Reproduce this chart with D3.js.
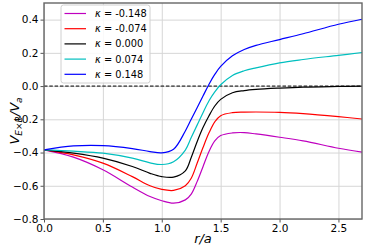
<!DOCTYPE html>
<html>
<head>
<meta charset="utf-8">
<script src="https://cdn.jsdelivr.net/npm/d3@7"></script>
<style>
  body { margin: 0; background: #fff; }
  svg { display: block; font-family: "DejaVu Sans", sans-serif; }
</style>
</head>
<body>
<svg id="chart" width="374" height="249"></svg>
<script>
// r/a positions shared by all curves
var rVals = [0, 0.25, 0.5, 0.75, 0.9, 1.0, 1.1, 1.2, 1.25, 1.3, 1.35, 1.4, 1.45, 1.5, 1.6, 1.7, 1.8, 2.0, 2.2, 2.5, 2.7];

var kappas = ["-0.148", "-0.074", "0.000", "0.074", "0.148"];
var couleurs = ["#bf00bf", "#ff0000", "#000000", "#00bfbf", "#0000ff"];

var vKm148 = [-0.384, -0.428, -0.504, -0.608, -0.665, -0.69, -0.705, -0.685, -0.65, -0.575, -0.485, -0.395, -0.33, -0.298, -0.282, -0.28, -0.288, -0.308, -0.33, -0.374, -0.398];
var vKm074 = [-0.384, -0.414, -0.464, -0.545, -0.60, -0.622, -0.628, -0.60, -0.555, -0.465, -0.37, -0.283, -0.215, -0.178, -0.16, -0.157, -0.156, -0.158, -0.166, -0.184, -0.198];
var vK000 = [-0.384, -0.404, -0.434, -0.484, -0.525, -0.545, -0.548, -0.51, -0.43, -0.335, -0.25, -0.18, -0.12, -0.08, -0.04, -0.027, -0.02, -0.012, -0.006, -0.002, 0.0];
var vKp074 = [-0.384, -0.392, -0.404, -0.434, -0.462, -0.472, -0.455, -0.385, -0.31, -0.235, -0.16, -0.09, -0.035, 0.008, 0.064, 0.092, 0.11, 0.14, 0.16, 0.185, 0.202];
var vKp148 = [-0.384, -0.36, -0.358, -0.376, -0.394, -0.402, -0.38, -0.27, -0.20, -0.13, -0.06, 0.01, 0.07, 0.118, 0.182, 0.22, 0.245, 0.28, 0.315, 0.372, 0.402];

var series = [vKm148, vKm074, vK000, vKp074, vKp148];

var xTicks = [0, 0.5, 1.0, 1.5, 2.0, 2.5];
var yTicks = [-0.8, -0.6, -0.4, -0.2, 0.0, 0.2, 0.4];

(function() {
    var svg = d3.select("#chart"),
        mLeft = 44, mRight = 362, mTop = 3, mBottom = 219;

    var x = d3.scaleLinear().domain([0, 2.7]).range([mLeft, mRight]);
    var y = d3.scaleLinear().domain([-0.8, 0.5]).range([mBottom, mTop]);

    // grille
    svg.append("g")
        .attr("transform", "translate(0," + mBottom + ")")
        .call(d3.axisBottom(x).tickValues(xTicks).tickSize(-(mBottom - mTop)).tickFormat(""))
        .call(g => g.select(".domain").remove())
        .selectAll("line").attr("stroke", "#d6d6d6").attr("stroke-width", 1);
    svg.append("g")
        .attr("transform", "translate(" + mLeft + ",0)")
        .call(d3.axisLeft(y).tickValues(yTicks).tickSize(-(mRight - mLeft)).tickFormat(""))
        .call(g => g.select(".domain").remove())
        .selectAll("line").attr("stroke", "#d6d6d6").attr("stroke-width", 1);

    // ligne zéro
    svg.append("line")
        .attr("x1", mLeft).attr("x2", mRight)
        .attr("y1", y(0)).attr("y2", y(0))
        .attr("stroke", "#000").attr("stroke-width", 1)
        .attr("stroke-dasharray", "3.5,1.8");

    // courbes
    var line = d3.line()
        .x(function(d, i) { return x(rVals[i]); })
        .y(function(d) { return y(d); })
        .curve(d3.curveCatmullRom.alpha(0.5));

    series.forEach(function(s, i) {
        svg.append("path")
            .attr("d", line(s))
            .attr("fill", "none")
            .attr("stroke", couleurs[i])
            .attr("stroke-width", 1.2);
    });

    // axes
    var xAxis = svg.append("g")
        .attr("transform", "translate(0," + mBottom + ")")
        .call(d3.axisBottom(x).tickValues(xTicks).tickSize(3.5).tickPadding(2).tickFormat(d3.format(".1f")));
    var yAxis = svg.append("g")
        .attr("transform", "translate(" + mLeft + ",0)")
        .call(d3.axisLeft(y).tickValues(yTicks).tickSize(3.5).tickPadding(2)
            .tickFormat(function(d) { return d3.format(".1f")(d).replace("-", "\u2212"); }));
    [xAxis, yAxis].forEach(function(g) {
        g.select(".domain").remove();
        g.selectAll("line").attr("stroke", "#555").attr("stroke-width", 1);
        g.selectAll("text").attr("fill", "#000").style("font-size", "10.5px").style("font-family", "DejaVu Sans");
    });

    // cadre
    svg.append("rect")
        .attr("x", mLeft).attr("y", mTop)
        .attr("width", mRight - mLeft).attr("height", mBottom - mTop)
        .attr("fill", "none").attr("stroke", "#666").attr("stroke-width", 1.4);

    // légende
    var lg = svg.append("g").attr("transform", "translate(61,5)");
    lg.append("rect")
        .attr("width", 89).attr("height", 78).attr("rx", 2.5)
        .attr("fill", "#fff").attr("fill-opacity", 0.85)
        .attr("stroke", "#d0d0d0").attr("stroke-width", 1);
    kappas.forEach(function(k, i) {
        var yy = 8.5 + i * 15.2;
        lg.append("line")
            .attr("x1", 3.5).attr("x2", 25)
            .attr("y1", yy).attr("y2", yy)
            .attr("stroke", couleurs[i]).attr("stroke-width", 1.2);
        var t = lg.append("text")
            .attr("x", 34).attr("y", yy + 3.5)
            .style("font-size", "9.8px");
        t.append("tspan").style("font-style", "italic").text("\u03ba");
        t.append("tspan").text(" = " + k);
    });

    // titres des axes
    var yl = svg.append("text")
        .attr("transform", "translate(19,121) rotate(-90)")
        .attr("text-anchor", "middle")
        .style("font-size", "13px").style("font-style", "italic");
    yl.append("tspan").text("V");
    yl.append("tspan").attr("dy", 3).style("font-size", "9px").text("E\u00d7B");
    yl.append("tspan").attr("dy", -3).text("/V");
    yl.append("tspan").attr("dy", 3).style("font-size", "9px").text("a");

    svg.append("text")
        .attr("x", (mLeft + mRight) / 2).attr("y", 243)
        .attr("text-anchor", "middle")
        .style("font-size", "13px").style("font-style", "italic")
        .text("r/a");
})();
</script>
</body>
</html>
